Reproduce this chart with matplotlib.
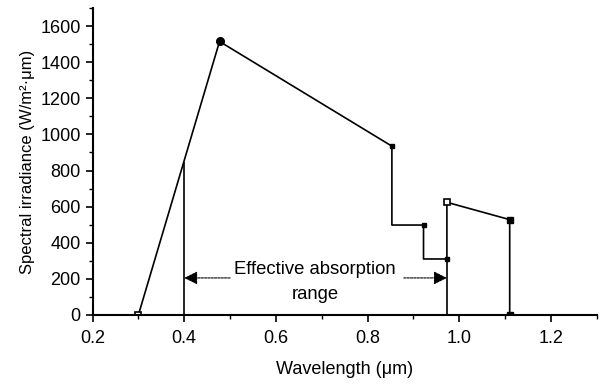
import matplotlib
matplotlib.use("Agg")
import matplotlib.pyplot as plt
from matplotlib.ticker import MultipleLocator

plt.rcParams["font.family"] = ["Liberation Sans", "DejaVu Sans"]

# spectrum outline (wavelength in um, irradiance in W/m2.um)
wavelength = [0.30, 0.477, 0.853, 0.853, 0.922, 0.922, 0.973, 0.973, 1.11, 1.11]
irradiance = [0, 1515, 935, 498, 498, 310, 310, 624, 528, 0]

# marked points
open_x = [0.30, 0.973]
open_y = [0, 624]
filled_x = [0.477, 1.11, 1.11]
filled_y = [1515, 528, 0]
small_x = [0.853, 0.922, 0.973]
small_y = [935, 498, 310]

# absorption range limits
range_lo = 0.4
range_hi = 0.973
range_lo_top = 848
range_hi_top = 310

fig = plt.figure(figsize=(6.01, 3.85), dpi=100)
ax = fig.add_axes([0.154, 0.182, 0.839, 0.797])

ax.plot(wavelength, irradiance, color="black", lw=1.2)
ax.plot(open_x, open_y, "s", ms=4.5, mfc="white", mec="black", mew=1.2)
ax.plot(filled_x[:1], filled_y[:1], "o", ms=5.5, color="black")
ax.plot(filled_x[1:], filled_y[1:], "s", ms=5, color="black")
ax.plot(small_x, small_y, "s", ms=2.5, color="black")

ax.vlines([range_lo, range_hi], 0, [range_lo_top, range_hi_top], color="black", lw=1.2)

arrow = dict(arrowstyle="-|>", color="black", lw=0.8, linestyle=(0, (2, 1)),
             mutation_scale=20, shrinkA=0, shrinkB=0)
ax.annotate("", xy=(range_lo, 205), xytext=(0.5, 205), arrowprops=arrow)
ax.annotate("", xy=(range_hi, 205), xytext=(0.879, 205), arrowprops=arrow)
ax.text(0.685, 249, "Effective absorption", ha="center", va="center", fontsize=13.3)
ax.text(0.686, 115, "range", ha="center", va="center", fontsize=13.3)

ax.set_xlim(0.2, 1.3)
ax.set_ylim(0, 1700)
ax.xaxis.set_major_locator(MultipleLocator(0.2))
ax.xaxis.set_minor_locator(MultipleLocator(0.1))
ax.yaxis.set_major_locator(MultipleLocator(200))
ax.yaxis.set_minor_locator(MultipleLocator(100))
ax.set_xticks([0.2, 0.4, 0.6, 0.8, 1.0, 1.2])
ax.set_xticklabels(["0.2", "0.4", "0.6", "0.8", "1.0", "1.2"])

for s in ["top", "right"]:
    ax.spines[s].set_visible(False)
for s in ["left", "bottom"]:
    ax.spines[s].set_linewidth(1.5)
ax.tick_params(which="major", direction="out", length=5, width=1.2, labelsize=13)
ax.tick_params(axis="x", which="major", pad=6)
ax.tick_params(which="minor", direction="out", length=3, width=1)

ax.set_xlabel("Wavelength (\u03bcm)", fontsize=13, labelpad=10)
ax.set_ylabel("Spectral irradiance (W/m\u00b2\u00b7\u03bcm)", fontsize=12, labelpad=4)

fig.savefig("out.png", dpi=100)
